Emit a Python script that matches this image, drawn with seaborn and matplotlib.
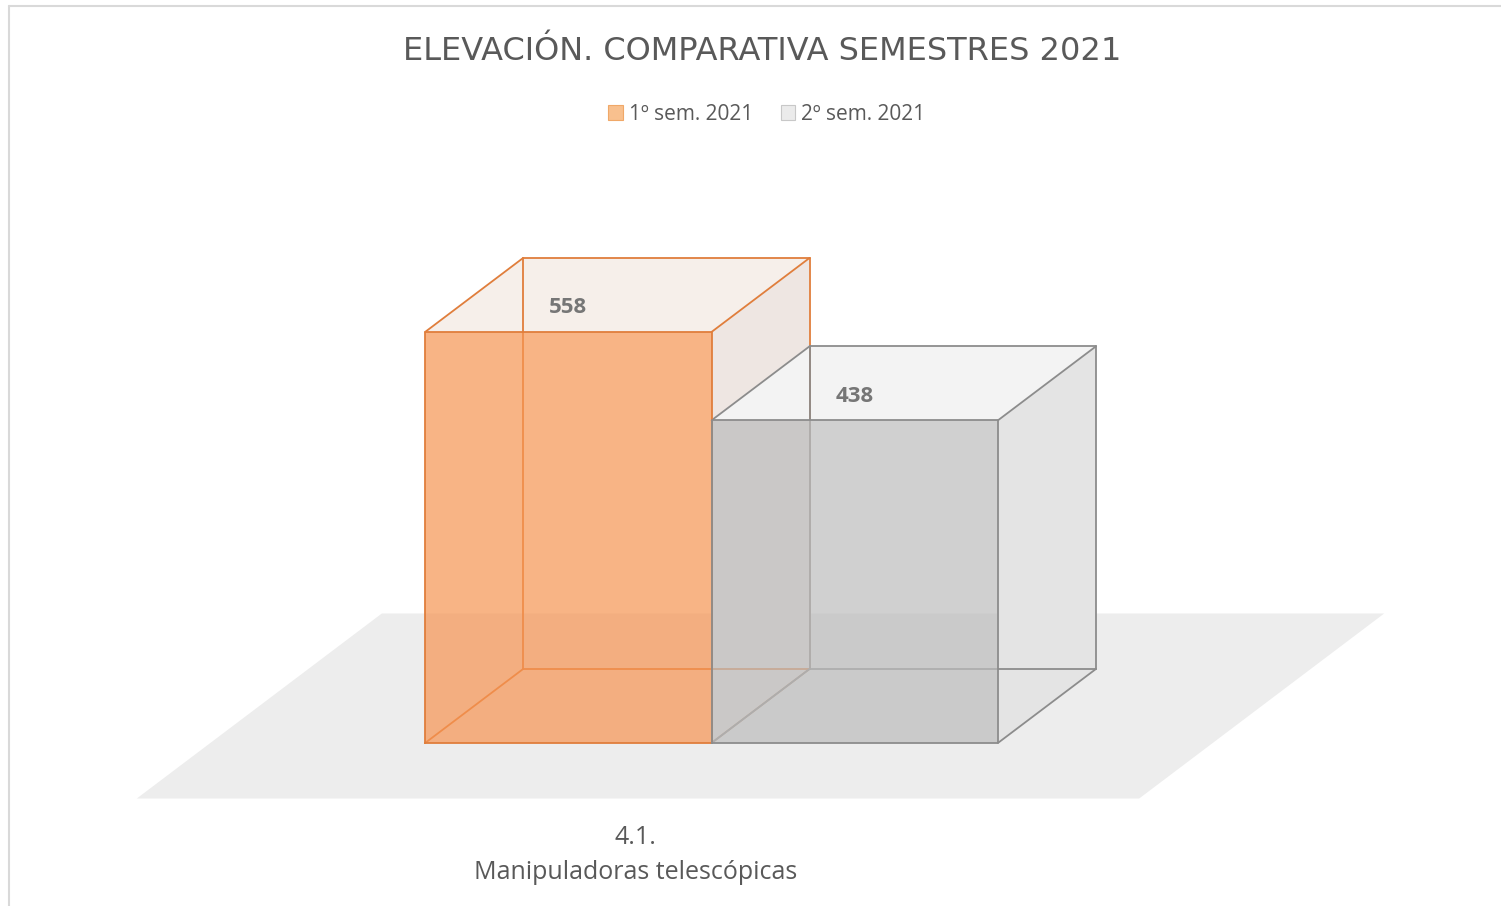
"""
Elevación: comparativa de semestres 2021 (barras con efecto 3D)
"""
import numpy as np
import pandas as pd
import matplotlib
matplotlib.use("Agg")
import matplotlib.pyplot as plt
import seaborn as sns
from matplotlib.patches import Polygon
from matplotlib.lines import Line2D

# Datos
categorias = ["4.1.\nManipuladoras telescópicas"]
semestres = ["1º sem. 2021", "2º sem. 2021"]
valores = [558, 438]

df = pd.DataFrame({
    "categoria": categorias * len(semestres),
    "semestre": semestres,
    "valor": valores,
})

# Estilo
colores_frente = ["#F69452", "#BCBCBC"]
colores_borde = ["#E07E3C", "#8C8C8C"]
colores_lado = ["#EEE6E2", "#E4E4E4"]
colores_tapa = ["#F6EFEA", "#F3F3F3"]
colores_leyenda = ["#F8C08E", "#EBEBEB"]
gris_texto = "#595959"

W, H, DPI = 1501, 906, 100
PX_X = 716.0      # píxeles por unidad de categoría
PX_Y = 0.7366     # píxeles por unidad de valor
X0_PX, Y0_PX = 711.5, 743.0
DX = 98 / PX_X    # profundidad 3D
DY = 74 / PX_Y

sns.set_theme(style="white")
plt.rcParams["font.family"] = ["Open Sans", "DejaVu Sans"]

fig = plt.figure(figsize=(W / DPI, H / DPI), dpi=DPI)
ax = fig.add_axes([0, 0, 1, 1])

sns.barplot(
    data=df, x="categoria", y="valor", hue="semestre",
    palette=colores_frente, saturation=1, width=0.8,
    alpha=0.7, ax=ax, zorder=5, linewidth=0,
)

ax.set_xlim(-X0_PX / PX_X, (W - X0_PX) / PX_X)
ax.set_ylim(-(H - Y0_PX) / PX_Y, Y0_PX / PX_Y)
ax.set_axis_off()

barras = [c.patches[0] for c in ax.containers]

# Suelo
izq = min(b.get_x() for b in barras) - 0.3
der = max(b.get_x() + b.get_width() for b in barras) + 0.3
suelo = Polygon(
    [(izq - 0.75 * DX, -0.75 * DY), (der - 0.75 * DX, -0.75 * DY),
     (der + 1.75 * DX, 1.75 * DY), (izq + 1.75 * DX, 1.75 * DY)],
    closed=True, facecolor="#EDEDED", edgecolor="none", zorder=1,
)
ax.add_patch(suelo)

for i, b in enumerate(barras):
    x0, x1 = b.get_x(), b.get_x() + b.get_width()
    h = b.get_height()
    ec = colores_borde[i]

    # cara lateral derecha y tapa (transparentes)
    lado = Polygon([(x1, 0), (x1 + DX, DY), (x1 + DX, h + DY), (x1, h)],
                   facecolor=colores_lado[i], edgecolor="none", zorder=3)
    tapa = Polygon([(x0, h), (x1, h), (x1 + DX, h + DY), (x0 + DX, h + DY)],
                   facecolor=colores_tapa[i], edgecolor="none", zorder=3)
    ax.add_patch(lado)
    ax.add_patch(tapa)

    # aristas de la caja
    aristas = [
        ([x0 + DX, x0 + DX], [DY, h + DY]),
        ([x0 + DX, x1 + DX], [DY, DY]),
        ([x0, x0 + DX], [0, DY]),
        ([x0, x0 + DX], [h, h + DY]),
        ([x1, x1 + DX], [h, h + DY]),
        ([x0 + DX, x1 + DX], [h + DY, h + DY]),
        ([x1 + DX, x1 + DX], [DY, h + DY]),
        ([x1, x1 + DX], [0, DY]),
    ]
    for xs, ys in aristas:
        ax.plot(xs, ys, color=ec, lw=1.3, zorder=4 + i * 0.1)

    # contorno del frente
    ax.plot([x0, x1, x1, x0, x0], [0, 0, h, h, 0], color=ec, lw=1.3, zorder=6)

    # etiqueta de valor
    ax.text((x0 + x1) / 2, h + 24 / PX_Y, f"{h:.0f}", ha="center", va="center",
            fontsize=16, fontweight="bold", color="#767676", zorder=7)

# Etiqueta de categoría
ax.text(-76 / PX_X, -(855 - Y0_PX) / PX_Y, categorias[0], ha="center", va="center",
        fontsize=18, color=gris_texto, linespacing=1.55)

# Leyenda
sns.move_legend(
    ax, "center", bbox_to_anchor=(767 / W, 1 - 114 / H), ncol=2,
    frameon=False, title=None, fontsize=15, handlelength=0.7,
    handleheight=0.7, handletextpad=0.3, columnspacing=1.3,
)
leg = ax.get_legend()
for t in leg.get_texts():
    t.set_color(gris_texto)
for hnd, c, e in zip(leg.legend_handles, colores_leyenda, ["#F0A868", "#C8C8C8"]):
    hnd.set_facecolor(c)
    hnd.set_edgecolor(e)
    hnd.set_alpha(1)
    hnd.set_linewidth(0.8)

# Título
fig.text(762 / W, 1 - 51 / H, "ELEVACIÓN. COMPARATIVA SEMESTRES 2021",
         ha="center", va="center", fontsize=23, color=gris_texto,
         family=["DejaVu Sans"])

# Marco del gráfico
fig.add_artist(Line2D([9 / W, 1], [1 - 6 / H, 1 - 6 / H], transform=fig.transFigure,
                      color="#D9D9D9", lw=1.5))
fig.add_artist(Line2D([9 / W, 9 / W], [0, 1 - 6 / H], transform=fig.transFigure,
                      color="#D9D9D9", lw=1.5))

fig.savefig("out.png", dpi=DPI)
